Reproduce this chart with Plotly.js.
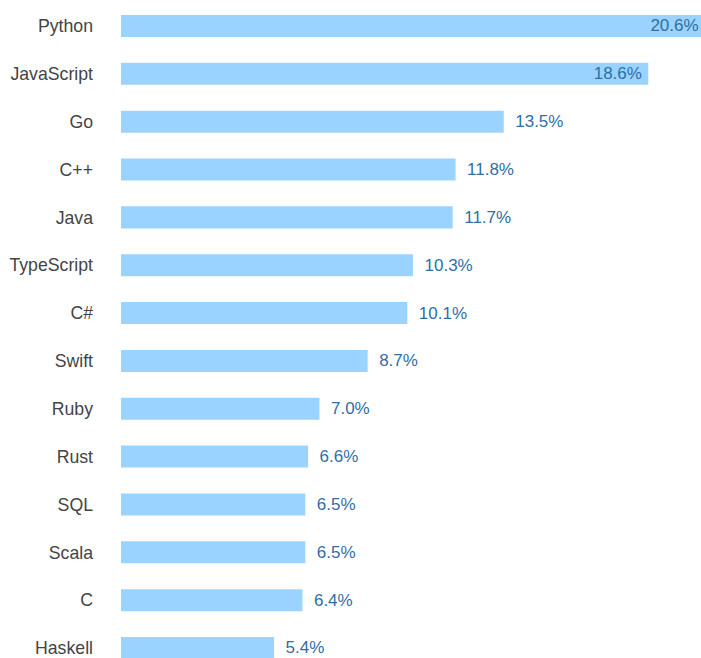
<!DOCTYPE html>
<html>
<head>
<meta charset="utf-8">
<script src="https://cdn.plot.ly/plotly-3.0.1.min.js"></script>
<style>html,body{margin:0;padding:0;background:#fff;overflow:hidden;}#chart{width:705px;height:658px;}</style>
</head>
<body>
<div id="chart"></div>
<script>
const categories = ["Python","JavaScript","Go","C++","Java","TypeScript","C#","Swift","Ruby","Rust","SQL","Scala","C","Haskell"];
const values = [20.6, 18.6, 13.5, 11.8, 11.7, 10.3, 10.1, 8.7, 7.0, 6.6, 6.5, 6.5, 6.4, 5.4];
const insideLabels = ["Python","JavaScript"];

const positions = categories.map(c => insideLabels.includes(c) ? "inside" : "outside");

const trace = {
  type: "bar",
  orientation: "h",
  y: categories,
  x: values,
  marker: {color: "#9ad3ff", line: {width: 0}},
  texttemplate: "\u2002%{x:.1f}%\u2009",
  textposition: positions,
  insidetextanchor: "end",
  constraintext: "none",
  cliponaxis: false,
  textfont: {family: "Arial, 'Liberation Sans', sans-serif", size: 17, color: "#2f6ea6"},
  insidetextfont: {family: "Arial, 'Liberation Sans', sans-serif", size: 17, color: "#2f6ea6"},
  outsidetextfont: {family: "Arial, 'Liberation Sans', sans-serif", size: 17, color: "#2f6ea6"},
  hoverinfo: "none"
};

const layout = {
  width: 705,
  height: 658,
  margin: {l: 121, r: 0, t: 0, b: 0, pad: 0},
  paper_bgcolor: "#ffffff",
  plot_bgcolor: "#ffffff",
  bargap: 0.54,
  showlegend: false,
  font: {family: "Arial, 'Liberation Sans', sans-serif", size: 17, color: "#444444"},
  xaxis: {range: [0, 20.6], visible: false, showgrid: false, zeroline: false, fixedrange: true},
  yaxis: {
    type: "category",
    range: [13.209, -0.543],
    showgrid: false, zeroline: false, showline: false,
    ticks: "",
    ticklabelstandoff: 27,
    tickfont: {family: "Arial, 'Liberation Sans', sans-serif", size: 17.7, color: "#444444"},
    automargin: false,
    fixedrange: true
  }
};

Plotly.newPlot("chart", [trace], layout, {displayModeBar: false, staticPlot: true});
</script>
</body>
</html>
